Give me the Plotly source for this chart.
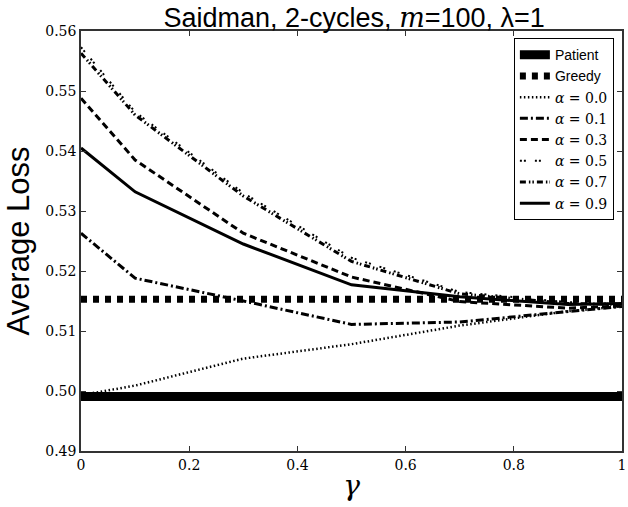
import plotly.graph_objects as go

gamma = [0, 0.1, 0.3, 0.5, 0.7, 0.9, 1.0]
patient = [0.4991] * len(gamma)
greedy = [0.5153] * len(gamma)
a00 = [0.4993, 0.5009, 0.5054, 0.5078, 0.5109, 0.5133, 0.5141]
a01 = [0.5263, 0.5188, 0.5150, 0.5111, 0.5115, 0.5132, 0.5141]
a03 = [0.5488, 0.5385, 0.5263, 0.5190, 0.5149, 0.5138, 0.5142]
a05 = [0.5573, 0.5465, 0.5330, 0.5222, 0.5165, 0.5148, 0.5145]
a07 = [0.5563, 0.5460, 0.5325, 0.5216, 0.5162, 0.5146, 0.5144]
a09 = [0.5405, 0.5332, 0.5245, 0.5177, 0.5157, 0.5144, 0.5146]

yticks = [0.49, 0.50, 0.51, 0.52, 0.53, 0.54, 0.55, 0.56]
ytick_labels = ["0.49", "0.50", "0.51", "0.52", "0.53", "0.54", "0.55", "0.56"]
xticks = [0, 0.2, 0.4, 0.6, 0.8, 1.0]
xtick_labels = ["0", "0.2", "0.4", "0.6", "0.8", "1"]

SERIF = "DejaVu Serif"
SANS = "Arial, Liberation Sans, Helvetica, sans-serif"

def alabel(v):
    return f'<span style="font-family:{SERIF};font-size:14px"><i>α</i> = {v}</span>'

series = [
    ("Patient", patient, 9, "solid"),
    ("Greedy", greedy, 7, "6px,6px"),
    (alabel("0.0"), a00, 2.5, "1.5px,2.5px"),
    (alabel("0.1"), a01, 3, "8px,3px,2px,3px"),
    (alabel("0.3"), a03, 3, "7px,4px"),
    (alabel("0.5"), a05, 2, "2px,2px,2px,9px"),
    (alabel("0.7"), a07, 3, "6px,3px,1.5px,2px,1.5px,3px"),
    (alabel("0.9"), a09, 3, "solid"),
]

fig = go.Figure()
for name, ys, w, dash in series:
    fig.add_trace(go.Scatter(x=gamma, y=ys, mode="lines", name=name,
                             line=dict(color="black", width=w, dash=dash)))

axis_common = dict(
    showgrid=False, zeroline=False, showline=True, linecolor="#333",
    linewidth=1.5, mirror="ticks", ticks="inside", ticklen=5,
    tickcolor="#333", tickwidth=1,
    tickfont=dict(family=SERIF, size=14, color="black"),
)

fig.update_layout(
    width=628, height=507,
    margin=dict(l=81, r=2, t=31, b=56),
    paper_bgcolor="white", plot_bgcolor="white",
    title=dict(text=f'Saidman, 2-cycles, <span style="font-family:{SERIF}"><i>m</i></span>=100, λ=1',
               x=0.564, xanchor="center", y=0.966, yanchor="middle",
               font=dict(family=SANS, size=27, color="black")),
    xaxis=dict(range=[0, 1], tickvals=xticks, ticktext=xtick_labels,
               ticklabeloverflow="allow",
               title=dict(text="<i>γ</i>", font=dict(family=SERIF, size=28, color="black"), standoff=4),
               **axis_common),
    yaxis=dict(range=[0.49, 0.56], tickvals=yticks, ticktext=ytick_labels,
               title=dict(text="Average Loss", font=dict(family=SANS, size=31, color="black"), standoff=6),
               **axis_common),
    legend=dict(x=0.985, y=0.983, xanchor="right", yanchor="top",
                bgcolor="white", bordercolor="black", borderwidth=1,
                font=dict(family=SANS, size=14, color="black"),
                itemwidth=30, tracegroupgap=0),
    showlegend=True,
)

fig.write_html("out.html")
